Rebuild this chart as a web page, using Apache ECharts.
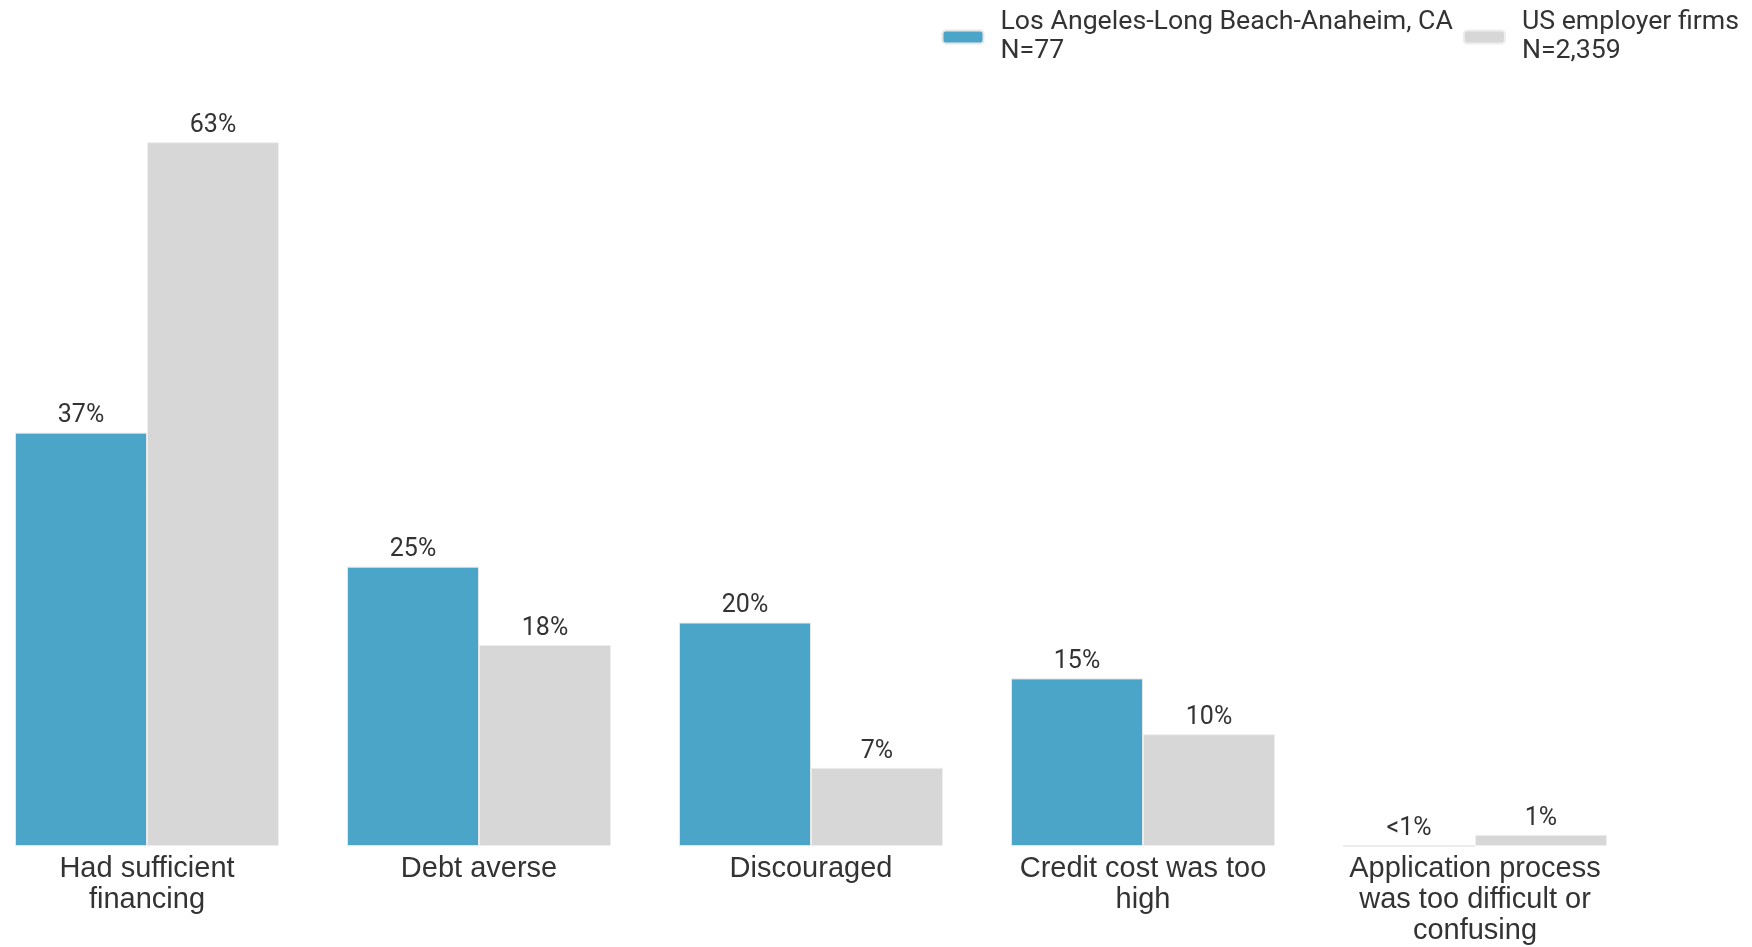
<!DOCTYPE html>
<html><head><meta charset="utf-8">
<script src="https://cdn.jsdelivr.net/npm/echarts@6/dist/echarts.min.js"></script>
<style>html,body{margin:0;padding:0;background:#fff;overflow:hidden}#c{position:absolute;left:-19px;top:0;width:1771px;height:947px}</style>
</head><body><div id="c"></div>
<script>
const categories = ["Had sufficient\nfinancing", "Debt averse", "Discouraged", "Credit cost was too\nhigh", "Application process\nwas too difficult or\nconfusing"];
const laValues = [37, 25, 20, 15, 0];
const laLabels = ["37%", "25%", "20%", "15%", "<1%"];
const usValues = [63, 18, 7, 10, 1];
const usLabels = ["63%", "18%", "7%", "10%", "1%"];
const seriesNames = ["Los Angeles-Long Beach-Anaheim, CA\nN=77", "US employer firms\nN=2,359"];

const chart = echarts.init(document.getElementById('c'), null, {renderer: 'canvas'});
const labelStyle = (arr) => ({
  show: true, position: 'top', distance: 4,
  fontFamily: 'Roboto', fontSize: 25, color: '#333',
  formatter: p => arr[p.dataIndex]
});
chart.setOption({
  animation: false,
  legend: {
    right: 8, top: 3, itemWidth: 41, itemHeight: 13, itemGap: 10,
    textStyle: {fontFamily: 'Roboto', fontSize: 26.7, color: '#333', lineHeight: 29, padding: [0,0,0,12]},
    data: seriesNames
  },
  grid: {left: 0, width: 1660, top: 64, bottom: 101, containLabel: false},
  xAxis: {
    type: 'category', data: categories,
    axisLine: {show: false}, axisTick: {show: false},
    axisLabel: {interval: 0, margin: 7, fontFamily: 'Liberation Sans', fontSize: 29, lineHeight: 31, color: '#333', align: 'center'}
  },
  yAxis: {type: 'value', min: 0, max: 70, show: false, splitLine: {show: false}},
  series: [
    {name: seriesNames[0], type: 'bar', data: laValues, barWidth: 132, barGap: '0%',
     itemStyle: {color: '#4BA5C8', borderColor: '#e6e6e6', borderWidth: 1},
     label: labelStyle(laLabels)},
    {name: seriesNames[1], type: 'bar', data: usValues, barWidth: 132, barGap: '0%',
     itemStyle: {color: '#D7D7D7', borderColor: '#eeeeee', borderWidth: 1},
     label: labelStyle(usLabels)}
  ]
});
</script></body></html>
